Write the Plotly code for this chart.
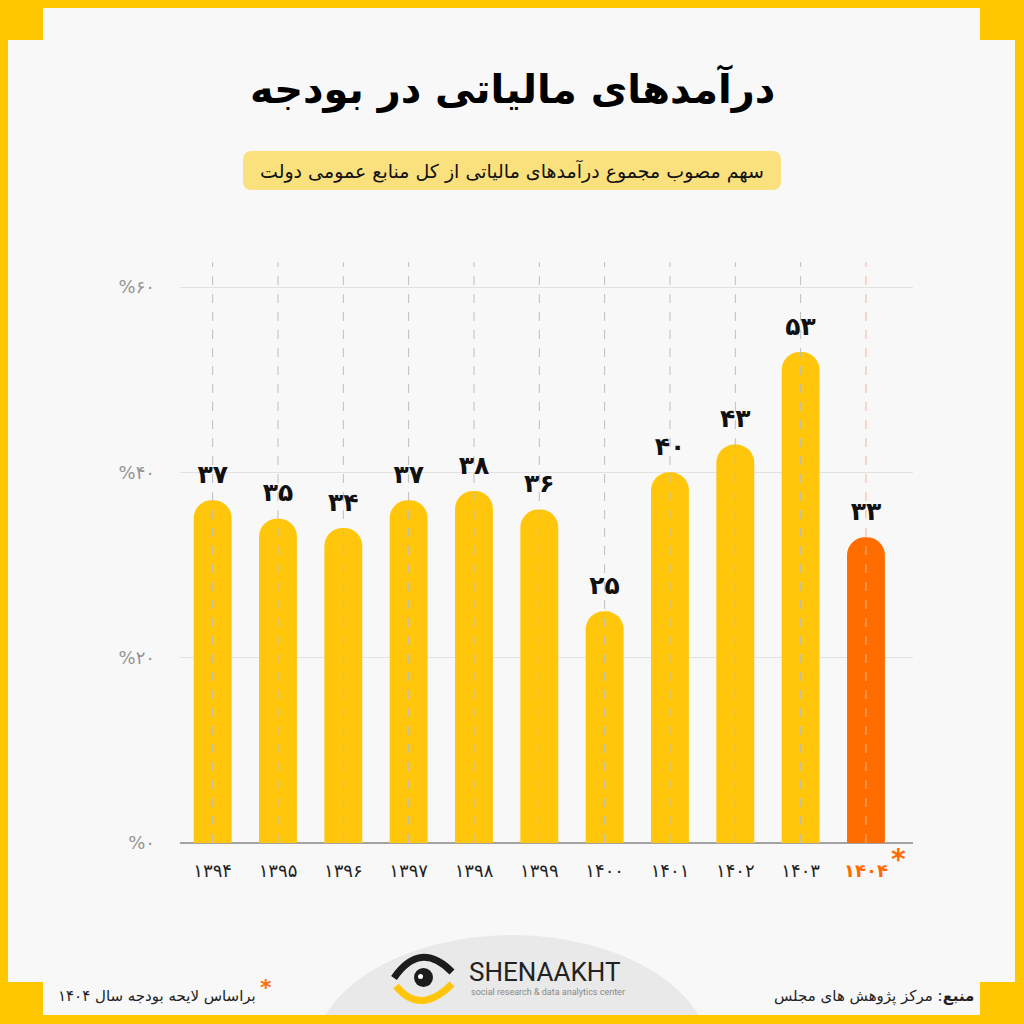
import plotly.graph_objects as go

# Data
years = [1394, 1395, 1396, 1397, 1398, 1399, 1400, 1401, 1402, 1403, 1404]
tax_share = [37, 35, 34, 37, 38, 36, 25, 40, 43, 53, 33]
y_ticks = [0, 20, 40, 60]

FA = str.maketrans('0123456789', '۰۱۲۳۴۵۶۷۸۹')


def fa(n):
    return str(n).translate(FA)


cats = [fa(y) for y in years]
labels = [fa(v) for v in tax_share]
tick_text = cats[:-1] + ['<span style="color:#ff6a00"><b>' + cats[-1] + '</b></span>']
bar_colors = ['#ffc60b'] * (len(cats) - 1) + ['#ff6d00']

W = H = 1024
Y_TOP = 62.7
FONT = 'DejaVu Sans'


def px(x):
    return x / W


def py(y):
    return 1 - y / H


def rounded_box(x0, y0, x1, y1, r):
    # pixel box -> paper path with rounded corners
    a, b, c, d = px(x0), py(y0), px(x1), py(y1)
    rx, ry = r / W, r / H
    return ('M %f,%f L %f,%f Q %f,%f %f,%f L %f,%f Q %f,%f %f,%f '
            'L %f,%f Q %f,%f %f,%f L %f,%f Q %f,%f %f,%f Z') % (
        a + rx, b, c - rx, b, c, b, c, b - ry, c, d + ry, c, d, c - rx, d,
        a + rx, d, a, d, a, d + ry, a, b - ry, a, b, a + rx, b)


# dashed guide lines behind the bars
gx, gy = [], []
for c in cats[:-1]:
    gx += [c, c, None]
    gy += [0, Y_TOP, None]

traces = [
    go.Scatter(x=gx, y=gy, mode='lines', hoverinfo='skip',
               line=dict(color='#bdbdbd', width=1, dash='dash')),
    go.Scatter(x=[cats[-1], cats[-1]], y=[0, Y_TOP], mode='lines', hoverinfo='skip',
               line=dict(color='#f6b58f', width=1, dash='dash')),
    go.Bar(x=cats, y=tax_share, width=0.58,
           marker=dict(color=bar_colors, cornerradius='50%', line=dict(width=0))),
    go.Scatter(x=cats, y=tax_share, mode='markers+text', text=labels,
               textposition='top center',
               marker=dict(size=16, color='rgba(0,0,0,0)'),
               textfont=dict(family=FONT, size=25, color='#111111', weight='bold')),
]

shapes = [
    # light panel inside the yellow frame
    dict(type='rect', xref='paper', yref='paper', x0=px(8), x1=px(1015), y0=py(982), y1=py(40),
         fillcolor='#f8f8f8', line_width=0, layer='below'),
    dict(type='rect', xref='paper', yref='paper', x0=px(43), x1=px(980), y0=py(1015), y1=py(8),
         fillcolor='#f8f8f8', line_width=0, layer='below'),
    # grey disc behind logo
    dict(type='circle', xref='paper', yref='paper', x0=px(312), x1=px(712), y0=py(1185), y1=py(935),
         fillcolor='#e9e9e9', line_width=0, layer='below'),
    dict(type='rect', xref='paper', yref='paper', x0=0, x1=1, y0=0, y1=py(1015),
         fillcolor='#ffc700', line_width=0, layer='below'),
    # subtitle box
    dict(type='path', xref='paper', yref='paper', path=rounded_box(243, 151, 781, 190, 9),
         fillcolor='#fbe07e', line_width=0, layer='below'),
    # logo eye
    dict(type='path', xref='paper', yref='paper',
         path='M %f,%f Q %f,%f %f,%f' % (px(394), py(978), px(420), py(940), px(452), py(972)),
         line=dict(color='#1c1c1c', width=7)),
    dict(type='path', xref='paper', yref='paper',
         path='M %f,%f Q %f,%f %f,%f' % (px(396), py(986), px(420), py(1016), px(452), py(984)),
         line=dict(color='#ffc60b', width=7)),
    dict(type='circle', xref='paper', yref='paper', x0=px(414), x1=px(433), y0=py(987), y1=py(968),
         fillcolor='#1c1c1c', line_width=0),
    dict(type='circle', xref='paper', yref='paper', x0=px(418), x1=px(423), y0=py(979), y1=py(974),
         fillcolor='#ffffff', line_width=0),
]


def note(text, x, y, size, color, family=FONT, xanchor='center'):
    return dict(text=text, x=px(x), y=py(y), xref='paper', yref='paper', showarrow=False,
                xanchor=xanchor, yanchor='middle',
                font=dict(family=family, size=size, color=color))


annotations = [
    note('<b>درآمدهای مالیاتی در بودجه</b>', 512, 88, 40, '#000000'),
    note('سهم مصوب مجموع درآمدهای مالیاتی از کل منابع عمومی دولت', 512, 171, 19, '#111111'),
    note('<b>*</b>', 898, 859, 28, '#ff6d00'),
    note('SHENAAKHT', 467, 972, 26, '#222222', family='Roboto', xanchor='left'),
    note('social research & data analytics center', 469, 992, 9, '#888888',
         family='Roboto', xanchor='left'),
    note('براساس لایحه بودجه سال ۱۴۰۴', 258, 996, 15, '#222222', xanchor='right'),
    note('<b>*</b>', 266, 987, 22, '#ff6d00'),
    note('<b>منبع</b>: مرکز پژوهش های مجلس', 976, 996, 15, '#222222', xanchor='right'),
]

layout = go.Layout(
    width=W, height=H,
    margin=dict(l=0, r=0, t=0, b=0, autoexpand=False),
    paper_bgcolor='#ffc700',
    plot_bgcolor='rgba(0,0,0,0)',
    showlegend=False,
    xaxis=dict(type='category', domain=[px(180), px(913)], range=[-0.5, 10.72],
               automargin=False,
               showgrid=False, showline=False, zeroline=False, ticks='',
               tickvals=cats, ticktext=tick_text, ticklabelstandoff=15,
               tickfont=dict(family=FONT, size=18, color='#222222')),
    yaxis=dict(domain=[py(843), py(262)], range=[0, Y_TOP], automargin=False,
               tickvals=y_ticks, ticktext=['%' + fa(t) for t in y_ticks],
               showgrid=True, gridcolor='#e2e2e2', gridwidth=1,
               zeroline=True, zerolinecolor='#a3a3a3', zerolinewidth=2,
               showline=False, ticks='', ticklabelstandoff=24,
               tickfont=dict(family=FONT, size=18, color='#939393')),
    shapes=shapes,
    annotations=annotations,
)

fig = go.Figure(data=traces, layout=layout)
fig.write_html('out.html', config={'displayModeBar': False},
               post_script="document.body.style.margin='0';")
